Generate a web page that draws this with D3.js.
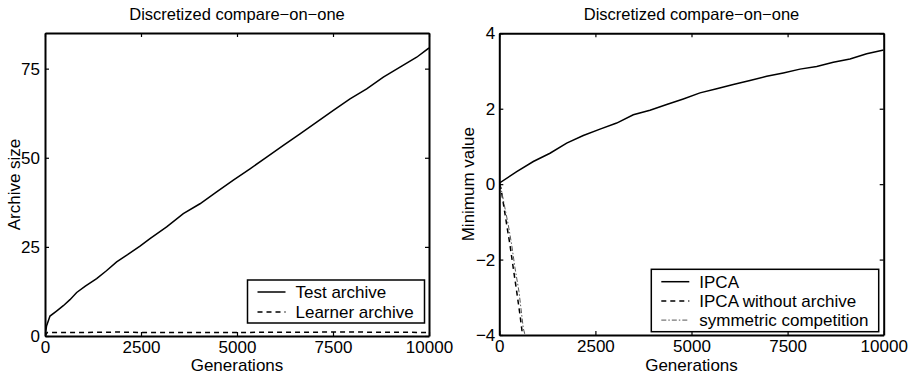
<!DOCTYPE html>
<html>
<head>
<meta charset="utf-8">
<script src="https://cdn.jsdelivr.net/npm/d3@7"></script>
<style>
  body { margin: 0; background: #fff; }
  text { font-family: "Liberation Sans", Arial, Helvetica, sans-serif; fill: #000; }
</style>
</head>
<body>
<div id="chart"></div>
<script>
// ---- data ----
var title = "Discretized compare\u2212on\u2212one";

// left panel: archive size
var testGen   = [0, 40, 130, 300, 477, 650, 825, 1050, 1345, 1600, 1866, 2150, 2474, 2734, 3168, 3602, 4036, 4470, 4905, 5339, 5773, 6207, 6641, 7075, 7509, 7943, 8377, 8811, 9245, 9679, 10000];
var testSize  = [0, 2.8, 5.6, 7.0, 8.5, 10.2, 12.2, 14.0, 16.1, 18.3, 20.8, 22.8, 25.2, 27.3, 30.6, 34.3, 37.1, 40.4, 43.7, 46.9, 50.2, 53.5, 56.7, 60.0, 63.3, 66.5, 69.3, 72.6, 75.4, 78.2, 80.8];
var learnGen  = [0, 60, 1000, 1900, 2500, 5000, 7500, 8100, 10000];
var learnSize = [0, 1, 1, 1.1, 1, 1, 1.1, 1.1, 1];

// right panel: minimum value
var ipcaGen   = [0, 18, 453, 885, 1319, 1753, 2185, 2620, 3054, 3486, 3920, 4355, 4787, 5221, 5655, 6087, 6521, 6956, 7388, 7822, 8257, 8689, 9123, 9558, 10000];
var ipcaMin   = [0, 0.04, 0.33, 0.60, 0.82, 1.09, 1.29, 1.46, 1.62, 1.84, 1.96, 2.11, 2.26, 2.42, 2.53, 2.64, 2.75, 2.86, 2.95, 3.05, 3.12, 3.23, 3.32, 3.46, 3.56];
var noArchGen = [0, 44, 193, 278, 364, 453, 539, 604];
var noArchMin = [0, -0.11, -1.08, -1.61, -2.23, -2.85, -3.47, -4];
var symGen    = [0, 52, 234, 322, 408, 512, 624, 669];
var symMin    = [0, -0.15, -1.08, -1.61, -2.22, -2.85, -3.82, -4];

var xTicks = [0, 2500, 5000, 7500, 10000];
var leftYTicks = [0, 25, 50, 75];
var rightYTicks = [-4, -2, 0, 2, 4];

function zip(a, b) { return a.map(function(v, i) { return [v, b[i]]; }); }

var W = 917, H = 376, FS = 17;

var svg = d3.select("#chart").append("svg")
  .attr("width", W).attr("height", H);

function panel(p) {
  var x = d3.scaleLinear().domain([0, 10000]).range([p.left, p.right]);
  var y = d3.scaleLinear().domain(p.yDomain).range([p.bottom, p.top]);
  var g = svg.append("g");

  // title
  g.append("text").attr("x", (p.left + p.right) / 2).attr("y", 19.5)
    .attr("text-anchor", "middle").attr("font-size", 16.5).style("font-size", "16.5px").text(title);

  // clip for the lines
  var cid = "clip" + p.id;
  g.append("clipPath").attr("id", cid).append("rect")
    .attr("x", p.left).attr("y", p.top)
    .attr("width", p.right - p.left).attr("height", p.bottom - p.top);

  var line = d3.line().x(function(d) { return x(d[0]); }).y(function(d) { return y(d[1]); });
  var lines = g.append("g").attr("clip-path", "url(#" + cid + ")");
  p.series.forEach(function(s) {
    lines.append("path").datum(s.data)
      .attr("d", line).attr("fill", "none")
      .attr("stroke", s.color || "#000").attr("stroke-width", s.width || 1.5)
      .attr("stroke-dasharray", s.dash || null);
  });

  // axes, ticks inside on all four sides
  function style(a) {
    a.selectAll("path.domain").attr("stroke", "#000").attr("stroke-width", 2);
    a.selectAll(".tick line").attr("stroke", "#000").attr("stroke-width", 1.2);
    a.selectAll("text").style("font-size", FS + "px").attr("font-family", null);
  }
  g.append("g").attr("transform", "translate(0," + p.bottom + ")")
    .call(d3.axisBottom(x).tickValues(xTicks).tickSize(-4).tickSizeOuter(0).tickPadding(5).tickFormat(d3.format("d")))
    .call(style);
  g.append("g").attr("transform", "translate(0," + p.top + ")")
    .call(d3.axisTop(x).tickValues(xTicks).tickSize(-4).tickSizeOuter(0).tickFormat(""))
    .call(style);
  g.append("g").attr("transform", "translate(" + p.left + ",0)")
    .call(d3.axisLeft(y).tickValues(p.yTicks).tickSize(-4).tickSizeOuter(0).tickPadding(p.yPad).tickFormat(d3.format("d")))
    .call(style);
  g.append("g").attr("transform", "translate(" + p.right + ",0)")
    .call(d3.axisRight(y).tickValues(p.yTicks).tickSize(-4).tickSizeOuter(0).tickFormat(""))
    .call(style);

  // axis labels
  g.append("text").attr("x", (p.left + p.right) / 2).attr("y", 371)
    .attr("text-anchor", "middle").style("font-size", FS + "px").text("Generations");
  g.append("text")
    .attr("transform", "translate(" + p.yLabelX + "," + ((p.top + p.bottom) / 2) + ") rotate(-90)")
    .attr("text-anchor", "middle").style("font-size", FS + "px").text(p.yLabel);

  // legend
  var L = p.legend;
  var lg = g.append("g");
  lg.append("rect").attr("x", L.x).attr("y", L.y).attr("width", L.w).attr("height", L.h)
    .attr("fill", "#fff").attr("stroke", "#000").attr("stroke-width", 1.5);
  p.series.forEach(function(s, i) {
    var yy = L.y + L.first + i * L.step;
    lg.append("line").attr("x1", L.x + 10).attr("x2", L.x + 38).attr("y1", yy).attr("y2", yy)
      .attr("stroke", s.color || "#000").attr("stroke-width", s.width || 1.5)
      .attr("stroke-dasharray", s.dash || null);
    lg.append("text").attr("x", L.x + 48).attr("y", yy + 6)
      .style("font-size", FS + "px").text(s.name);
  });
}

panel({
  id: "L", left: 45, right: 429, top: 33, bottom: 336,
  yDomain: [0, 85], yTicks: leftYTicks, yPad: 5,
  yLabel: "Archive size", yLabelX: 20,
  series: [
    { name: "Test archive", data: zip(testGen, testSize) },
    { name: "Learner archive", data: zip(learnGen, learnSize), dash: "5,4" }
  ],
  legend: { x: 247.5, y: 280, w: 177, h: 43, first: 12, step: 20 }
});

panel({
  id: "R", left: 499.3, right: 883.7, top: 33.3, bottom: 335,
  yDomain: [-4, 4], yTicks: rightYTicks, yPad: 4,
  yLabel: "Minimum value", yLabelX: 474,
  series: [
    { name: "IPCA", data: zip(ipcaGen, ipcaMin) },
    { name: "IPCA without archive", data: zip(noArchGen, noArchMin), dash: "5,4" },
    { name: "symmetric competition", data: zip(symGen, symMin), dash: "5,2,1.5,2", width: 1, color: "#555" }
  ],
  legend: { x: 651.3, y: 269.3, w: 227.4, h: 62.4, first: 12.4, step: 19.2 }
});
</script>
</body>
</html>
